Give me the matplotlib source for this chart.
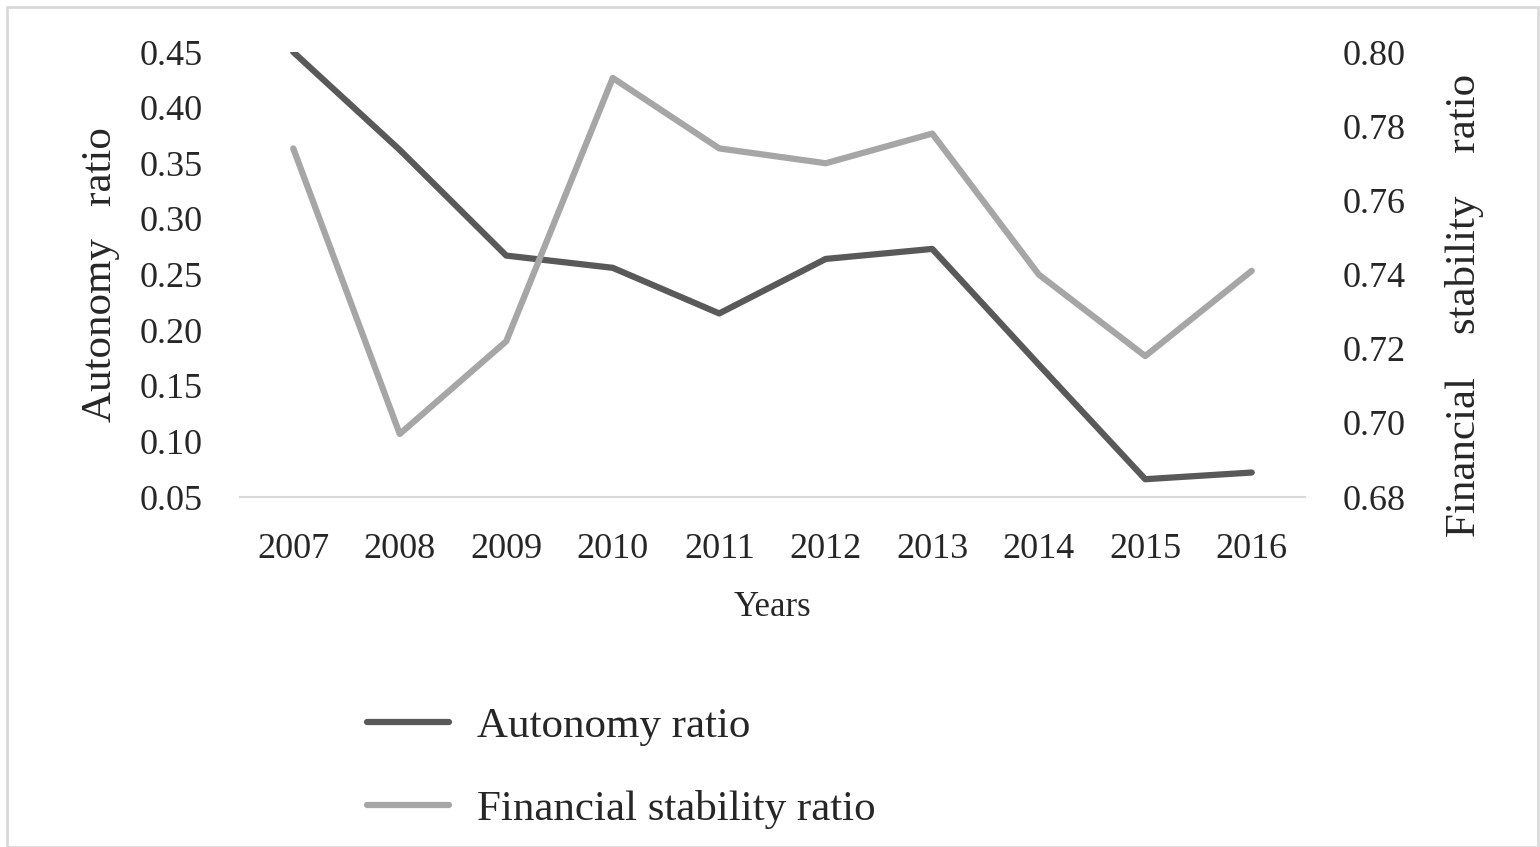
#!/usr/bin/env python3
"""
Autonomy ratio vs financial stability ratio, 2007-2016 (two y axes).
"""

import matplotlib

matplotlib.use("Agg")
import matplotlib.pyplot as plt
from matplotlib.patches import Rectangle

# ----------------------------------------------------------------------
# Data
# ----------------------------------------------------------------------

years = ["2007", "2008", "2009", "2010", "2011", "2012", "2013", "2014", "2015", "2016"]
autonomy = [0.450, 0.362, 0.267, 0.256, 0.215, 0.264, 0.273, 0.169, 0.066, 0.072]
stability = [0.774, 0.697, 0.722, 0.793, 0.774, 0.770, 0.778, 0.740, 0.718, 0.741]

left_ticks = [0.05, 0.10, 0.15, 0.20, 0.25, 0.30, 0.35, 0.40, 0.45]
right_ticks = [0.68, 0.70, 0.72, 0.74, 0.76, 0.78, 0.80]

DARK = "#595959"
LIGHT = "#a6a6a6"
TEXT = "#262626"

plt.rcParams["font.family"] = ["Liberation Serif", "DejaVu Serif"]

# ----------------------------------------------------------------------
# Figure
# ----------------------------------------------------------------------

fig = plt.figure(figsize=(15.4, 8.47), dpi=100)
fig.patches.append(
    Rectangle((7 / 1540, 0.0), 1531 / 1540, 840 / 847, transform=fig.transFigure,
              fill=False, edgecolor="#d9d9d9", linewidth=2)
)

ax = fig.add_axes([240 / 1540, 1 - 497 / 847, 1065 / 1540, 445 / 847])
ax2 = ax.twinx()

x = list(range(len(years)))
l1, = ax.plot(x, autonomy, color=DARK, linewidth=4.5, label="Autonomy ratio",
              solid_capstyle="round", zorder=3)
l2, = ax2.plot(x, stability, color=LIGHT, linewidth=4.5, label="Financial stability ratio",
               solid_capstyle="round", zorder=2)

ax.set_xlim(-0.5, len(years) - 0.5)
ax.set_ylim(0.05, 0.45)
ax2.set_ylim(0.68, 0.80)

ax.set_xticks(x)
ax.set_xticklabels(years)
ax.set_yticks(left_ticks)
ax.set_yticklabels([f"{v:.2f}" for v in left_ticks])
ax2.set_yticks(right_ticks)
ax2.set_yticklabels([f"{v:.2f}" for v in right_ticks])

for a in (ax, ax2):
    for side in ("top", "left", "right", "bottom"):
        a.spines[side].set_visible(False)
    a.tick_params(length=0, labelsize=26, colors=TEXT)
ax.spines["bottom"].set_visible(True)
ax.spines["bottom"].set_color("#d9d9d9")
ax.spines["bottom"].set_linewidth(1.5)
ax.tick_params(axis="y", pad=27)
ax.tick_params(axis="x", pad=26)
ax2.tick_params(axis="y", pad=27)

ax.set_xlabel("Years", fontsize=25, color=TEXT, labelpad=18)
ax.set_ylabel("Autonomy   ratio", fontsize=31, color=TEXT, labelpad=14)
ax2.set_ylabel("Financial    stability    ratio", fontsize=31, color=TEXT)
# the right label sits a little lower than the axes centre in the original
ax2.yaxis.set_label_coords(1.131, 0.43)

fig.legend(
    handles=[l1, l2],
    loc="upper left",
    bbox_to_anchor=(328 / 1540, 1 - 668 / 847),
    frameon=False,
    fontsize=31,
    handlelength=1.9,
    handletextpad=0.65,
    labelspacing=1.03,
    labelcolor=TEXT,
)

fig.savefig("out.png", dpi=100)
